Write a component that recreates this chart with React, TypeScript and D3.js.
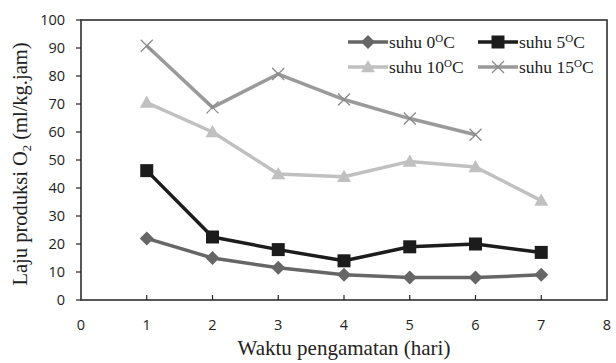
import React from "react";
import * as d3 from "d3";

const days = [1, 2, 3, 4, 5, 6, 7];
const suhu0 = [22, 15, 11.5, 9, 8, 8, 9];
const suhu5 = [46.2, 22.5, 18, 14, 19, 20, 17];
const suhu10 = [70.5, 60, 45, 44, 49.5, 47.5, 35.5];
const suhu15 = [90.8, 68.8, 80.7, 71.6, 64.8, 59];
const xTicks = [0, 1, 2, 3, 4, 5, 6, 7, 8];
const yTicks = [0, 10, 20, 30, 40, 50, 60, 70, 80, 90, 100];

const series = [
  { label: "0", values: suhu0, color: "#666666", marker: "diamond" },
  { label: "5", values: suhu5, color: "#1c1c1c", marker: "square" },
  { label: "10", values: suhu10, color: "#c0c0c0", marker: "triangle" },
  { label: "15", values: suhu15, color: "#9a9a9a", marker: "cross" },
];

const W = 616;
const H = 363;
const m = { left: 81, right: 607, top: 20, bottom: 300 };
const serif = "'Liberation Serif', 'Times New Roman', serif";
const sans = "'Open Sans', sans-serif";

function Marker({ type, x, y, color }: { type: string; x: number; y: number; color: string }) {
  if (type === "diamond") {
    const s = 7;
    return <path d={`M${x},${y - s}L${x + s},${y}L${x},${y + s}L${x - s},${y}Z`} fill={color} />;
  }
  if (type === "square") {
    return <rect x={x - 6.5} y={y - 6.5} width={13} height={13} fill={color} />;
  }
  if (type === "triangle") {
    const s = 7;
    return <path d={`M${x},${y - s}L${x + s},${y + s * 0.75}L${x - s},${y + s * 0.75}Z`} fill={color} />;
  }
  const s = 6;
  return (
    <path
      d={`M${x - s},${y - s}L${x + s},${y + s}M${x - s},${y + s}L${x + s},${y - s}`}
      stroke="#8a8a8a"
      strokeWidth={1.3}
      fill="none"
    />
  );
}

export default function App() {
  const x = d3.scaleLinear().domain([0, 8]).range([m.left, m.right]);
  const y = d3.scaleLinear().domain([0, 100]).range([m.bottom, m.top]);
  const line = d3
    .line<number>()
    .x((_, i) => x(days[i]))
    .y((d) => y(d));

  const legend = [
    { s: series[0], lx: 348, ly: 42 },
    { s: series[1], lx: 478, ly: 42 },
    { s: series[2], lx: 348, ly: 67 },
    { s: series[3], lx: 478, ly: 67 },
  ];

  return (
    <svg width={W} height={H} style={{ position: "absolute", left: 0, top: 0 }}>
      <rect width={W} height={H} fill="#fff" />
      <rect
        x={m.left}
        y={m.top}
        width={m.right - m.left}
        height={m.bottom - m.top}
        fill="none"
        stroke="#222"
        strokeWidth={1.5}
      />
      {yTicks.map((t) => (
        <g key={t}>
          <line x1={m.left - 5} x2={m.left} y1={y(t)} y2={y(t)} stroke="#222" strokeWidth={1.2} />
          <text x={m.left - 16} y={y(t)} dy="0.36em" textAnchor="end" fontFamily={sans} fontSize={14.5} fill="#222">
            {t}
          </text>
        </g>
      ))}
      {xTicks.map((t) => (
        <g key={t}>
          {t > 0 && t < 8 && (
            <line x1={x(t)} x2={x(t)} y1={m.bottom} y2={m.bottom - 5} stroke="#222" strokeWidth={1.2} />
          )}
          <text x={x(t)} y={m.bottom + 30} textAnchor="middle" fontFamily={sans} fontSize={14.5} fill="#222">
            {t}
          </text>
        </g>
      ))}
      {series.map((s) => (
        <g key={s.label}>
          <path d={line(s.values) ?? ""} fill="none" stroke={s.color} strokeWidth={3.5} strokeLinejoin="round" />
          {s.values.map((v, i) => (
            <Marker key={i} type={s.marker} x={x(days[i])} y={y(v)} color={s.color} />
          ))}
        </g>
      ))}
      {legend.map(({ s, lx, ly }) => (
        <g key={s.label}>
          <line x1={lx} x2={lx + 40} y1={ly} y2={ly} stroke={s.color} strokeWidth={3.5} />
          <Marker type={s.marker} x={lx + 20} y={ly} color={s.color} />
          <text x={lx + 41} y={ly + 6} fontFamily={serif} fontSize={17.5} fill="#222">
            suhu {s.label}
            <tspan fontSize={11} dy={-6}>O</tspan>
            <tspan dy={6}>C</tspan>
          </text>
        </g>
      ))}
      <text x={(m.left + m.right) / 2} y={355} textAnchor="middle" fontFamily={serif} fontSize={21} fill="#222">
        Waktu pengamatan (hari)
      </text>
      <text
        transform={`translate(27,${(m.top + m.bottom) / 2 + 4}) rotate(-90)`}
        textAnchor="middle"
        fontFamily={serif}
        fontSize={20.5}
        fill="#222"
      >
        Laju produksi O<tspan fontSize={12.5} dy={4}>2</tspan>
        <tspan dy={-4}> (ml/kg.jam)</tspan>
      </text>
    </svg>
  );
}
